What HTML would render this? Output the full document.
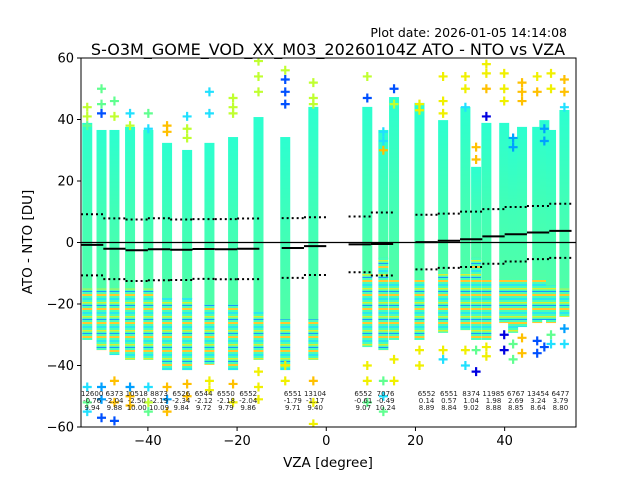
<!DOCTYPE html>
<html><head><meta charset="utf-8"><style>
body{margin:0;background:#fff;}
svg{display:block;font-family:"DejaVu Sans","Liberation Sans",sans-serif;}
</style></head><body>
<svg id="chart" width="640" height="480" viewBox="0 0 640 480">
<defs>
<pattern id="mix" width="10" height="14" patternUnits="userSpaceOnUse">
<rect width="10" height="14" fill="#48ffb8"/>
<rect y="0" width="10" height="2" fill="#ffc830"/>
<rect y="4" width="10" height="2" fill="#28e8f0"/>
<rect y="8" width="10" height="1.5" fill="#d8f030"/>
<rect y="11" width="10" height="1" fill="#1898ff"/>
</pattern>
<linearGradient id="core" x1="0" y1="0" x2="0" y2="1">
<stop offset="0" stop-color="#2cffd0"/>
<stop offset="0.5" stop-color="#40ffb8"/>
<stop offset="1" stop-color="#50ffa8"/>
</linearGradient>
<clipPath id="pc"><rect x="81" y="58" width="495" height="369"/></clipPath>
</defs>
<text x="567" y="37" font-size="12.5" text-anchor="end">Plot date: 2026-01-05 14:14:08</text>
<text x="328" y="55" font-size="16" text-anchor="middle">S-O3M_GOME_VOD_XX_M03_20260104Z ATO - NTO vs VZA</text>
<g id="plot" clip-path="url(#pc)"></g>
<g id="axes"></g>
<text x="328" y="467" font-size="13.5" text-anchor="middle">VZA [degree]</text>
<text transform="translate(32,242) rotate(-90)" font-size="13.5" text-anchor="middle">ATO - NTO [DU]</text>
</svg>
<script>
const colX = [-53.6,-50.4,-47.5,-44,-39.9,-35.7,-31.2,-26.2,-20.9,-15.2,-9.2,-2.9,9.2,12.8,15.2,20.9,26.2,31.2,33.6,35.9,39.9,41.9,43.9,47.3,48.9,50.4,53.4];
const colTop = [38.9,36.6,36.6,37.6,36.6,32.4,30.1,32.4,34.3,40.8,34.3,44.1,44.1,36.6,47.3,45.4,39.8,44.1,24.6,38.9,38.9,34.3,37.6,37.6,39.8,36.6,43.1];
const colBot = [-31.7,-35,-36.6,-38.2,-38.2,-41.5,-41.5,-39.8,-41.5,-38.2,-41.5,-38.2,-34,-35,-31.7,-31.7,-29.4,-28.5,-31.7,-31.7,-26.2,-29.4,-27.5,-26.2,-25.2,-26.2,-24.2];
const colMix = [-15,-15,-15,-15,-15,-18,-18,-20,-20,-22,-25,-25,-10,-5,-12,-12,-10,-10,-5,-12,-12,-12,-12,-12,-12,-14,-15];
const palette = ["#0050ff","#00a0ff","#20e0ff","#60ff90","#c0ff30","#f0f000","#ffc000","#0000e0"];
const outX = [-53.6,-53.6,-53.6,-50.4,-50.4,-50.4,-47.5,-47.5,-44,-44,-39.9,-39.9,-35.7,-35.7,-31.2,-31.2,-31.2,-26.2,-26.2,-20.9,-20.9,-20.9,-15.2,-15.2,-15.2,-9.2,-9.2,-9.2,-9.2,-2.9,-2.9,-2.9,9.2,9.2,12.8,12.8,12.8,15.2,15.2,20.9,20.9,26.2,26.2,26.2,31.2,31.2,31.2,33.6,33.6,35.9,35.9,35.9,35.9,39.9,39.9,39.9,41.9,41.9,43.9,43.9,43.9,47.3,47.3,48.9,48.9,50.4,50.4,53.4,53.4,53.4,
-53.6,-53.6,-53.6,-50.4,-50.4,-50.4,-47.5,-47.5,-47.5,-44,-44,-44,-39.9,-39.9,-39.9,-35.7,-35.7,-35.7,-31.2,-31.2,-26.2,-26.2,-20.9,-20.9,-15.2,-15.2,-15.2,-9.2,-9.2,-2.9,-2.9,-2.9,9.2,9.2,9.2,12.8,12.8,12.8,15.2,15.2,20.9,20.9,26.2,26.2,31.2,31.2,33.6,33.6,35.9,35.9,39.9,39.9,41.9,41.9,43.9,43.9,47.3,47.3,48.9,50.4,50.4,53.4,53.4];
const outY = [44,41,38,50,45,42,46,41,42,38,42,37,38,36,41,37,34,49,42,47,44,42,59,54,49,56,53,49,45,52,47,45,54,47,36,33,30,50,45,45,43,54,46,42,54,50,44,31,27,58,55,50,41,55,50,46,34,31,52,49,46,54,49,37,33,55,50,53,49,44,
-47,-52,-55,-47,-51,-57,-45,-52,-58,-47,-50,-53,-47,-52,-55,-47,-51,-55,-46,-50,-45,-48,-46,-52,-42,-47,-51,-40,-45,-45,-52,-59,-40,-45,-52,-45,-55,-50,-38,-45,-35,-40,-35,-38,-35,-40,-35,-42,-34,-37,-30,-35,-33,-38,-31,-36,-32,-36,-34,-30,-33,-28,-33];
const outC = [4,4,3,3,3,0,3,4,2,4,3,2,6,6,2,4,4,2,2,4,4,4,4,4,4,4,0,0,0,4,4,4,4,0,2,2,6,0,4,5,5,5,5,5,5,5,2,6,6,5,5,6,7,5,5,5,1,1,6,6,6,5,6,1,1,5,5,6,6,2,
2,3,2,1,1,0,6,6,0,1,6,6,2,4,3,6,1,6,6,6,5,5,6,5,5,5,5,5,5,6,5,5,5,5,3,3,3,2,5,5,5,5,5,2,5,2,3,7,5,5,7,7,3,3,6,6,0,0,0,3,2,1,2];
const binX = [-52.5,-47.5,-42.5,-37.5,-32.5,-27.5,-22.5,-17.5,-7.5,-2.5,7.5,12.5,22.5,27.5,32.5,37.5,42.5,47.5,52.5];
const binN = ["12600","6373","10518","8873","6526","6544","6550","6552","6551","13104","6552","7076","6552","6551","8374","11985","6767","13454","6477"];
const binMean = [-0.76,-2.04,-2.50,-2.19,-2.34,-2.12,-2.18,-2.04,-1.79,-1.17,-0.61,-0.49,0.14,0.57,1.04,1.98,2.69,3.24,3.79];
const binStd = [9.94,9.88,10.00,10.09,9.84,9.72,9.79,9.86,9.71,9.40,9.07,10.24,8.89,8.84,9.02,8.88,8.85,8.64,8.80];
const xTicks = [-40,-20,0,20,40];
const yTicks = [-60,-40,-20,0,20,40,60];

const NS="http://www.w3.org/2000/svg";
const X0=81,X1=576,Y0=58,Y1=427, xmin=-55, xmax=56, ymin=-60, ymax=60;
const sx=v=>X0+(v-xmin)/(xmax-xmin)*(X1-X0);
const sy=v=>Y1-(v-ymin)/(ymax-ymin)*(Y1-Y0);
function mk(t,a,p){const e=document.createElementNS(NS,t);for(const k in a)e.setAttribute(k,a[k]);p.appendChild(e);return e;}
const plot=document.getElementById('plot'), axes=document.getElementById('axes');

for(let i=0;i<colX.length;i++){
  const x=sx(colX[i])-5;
  let r=mk('rect',{x:x,y:sy(colTop[i]),width:10,height:sy(colMix[i])-sy(colTop[i])+1,fill:'url(#core)'},plot);
  
  
  let r3=mk('rect',{x:x,y:sy(colMix[i]),width:10,height:sy(colBot[i])-sy(colMix[i]),fill:'url(#mix)'},plot);
  
  
}
for(let i=0;i<outX.length;i++){
  const cx=sx(outX[i]),cy=sy(outY[i]);
  const p=mk('path',{d:`M${cx-4.5},${cy}H${cx+4.5}M${cx},${cy-4.5}V${cy+4.5}`,stroke:palette[outC[i]],'stroke-width':2.2,fill:'none'},plot);
  
  
}
let z=mk('line',{x1:X0,x2:X1,y1:sy(0),y2:sy(0),stroke:'#000','stroke-width':1.3},plot);


for(let i=0;i<binX.length;i++){
  const a=sx(binX[i]-2.5),b=sx(binX[i]+2.5);
  let m=mk('line',{x1:a,x2:b,y1:sy(binMean[i]),y2:sy(binMean[i]),stroke:'#000','stroke-width':2},plot);
  
  
  for(const s of [1,-1]){
    const v=binMean[i]+s*binStd[i];
    let d=mk('line',{x1:a,x2:b,y1:sy(v),y2:sy(v),stroke:'#000','stroke-width':2,'stroke-dasharray':'2,3'},plot);
    
    
  }
  const lines=[binN[i],binMean[i].toFixed(2),binStd[i].toFixed(2)];
  for(let k=0;k<3;k++){
    let t=mk('text',{x:sx(binX[i])+(binX[i]>5&&binX[i]<15?0.8*4.46:0),y:396+k*7,'font-size':7,'text-anchor':'middle',fill:'#222'},plot);
    t.textContent=lines[k];
    
    
  }
}
let fr=mk('rect',{x:X0,y:Y0,width:X1-X0,height:Y1-Y0,fill:'none',stroke:'#000','stroke-width':1},axes);


xTicks.forEach(v=>{
  const x=sx(v);
  let l=mk('line',{x1:x,x2:x,y1:Y1,y2:Y1+4,stroke:'#000'},axes);
  
  
  let t=mk('text',{x:x,y:Y1+18,'font-size':13,'text-anchor':'middle'},axes);
  t.textContent=(v<0?'\u2212'+(-v):v);
  
  
});
yTicks.forEach(v=>{
  const y=sy(v);
  let l=mk('line',{x1:X0-4,x2:X0,y1:y,y2:y,stroke:'#000'},axes);
  
  
  let t=mk('text',{x:X0-7,y:y+4.5,'font-size':13,'text-anchor':'end'},axes);
  t.textContent=(v<0?'\u2212'+(-v):v);
  
  
});
</script>
</body></html>
